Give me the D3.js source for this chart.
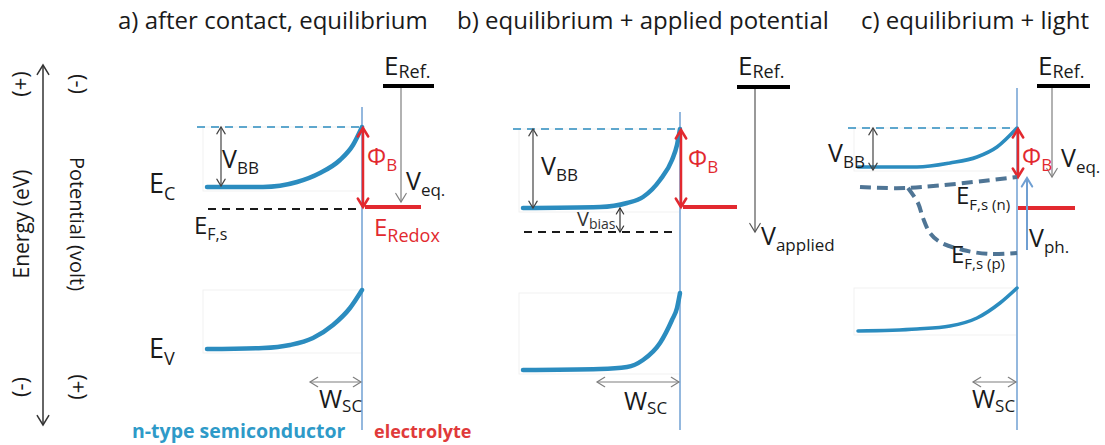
<!DOCTYPE html>
<html>
<head>
<meta charset="utf-8">
<script src="https://cdn.jsdelivr.net/npm/d3@7/dist/d3.min.js"></script>
<style>
  html, body { margin: 0; padding: 0; background: #ffffff; }
  svg { display: block; font-family: "Open Sans", Lato, sans-serif; }
</style>
</head>
<body>
<svg id="chart" width="1105" height="445"></svg>
<script>
// ---- Diagram values (energy in arbitrary units, depth measured from the interface) ----
const panelTitles = ["a) after contact, equilibrium", "b) equilibrium + applied potential", "c) equilibrium + light"];

// conduction band edge: [depth, energy]
const condBandA = [[-155, 243], [-99, 243], [-65, 248], [-42, 257], [-22, 270], [-9, 285], [0, 303]];
const condBandB = [[-157, 222], [-80, 223], [-53, 227], [-37, 233], [-20, 250], [-8, 270], [-3, 285], [0, 301]];
const condBandC = [[-159, 263], [-100, 263], [-67, 267], [-40, 273], [-20, 283], [0, 302]];

// valence band edge: [depth, energy]
const valBandA = [[-155, 81], [-99, 82], [-72, 85], [-49, 92], [-29, 105], [-12, 122], [0, 140]];
const valBandB = [[-157, 60], [-80, 61], [-53, 63], [-37, 70], [-20, 87], [-8, 110], [-3, 122], [0, 137]];
const valBandC = [[-159, 99], [-100, 101], [-67, 104], [-40, 112], [-17, 127], [0, 142]];

// quasi-Fermi levels under illumination
const fermiN = [[-157, 243], [-110, 242], [0, 253]];
const fermiP = [[-109, 242], [-99, 227], [-94, 212], [-87, 197], [-77, 188], [-54, 180], [-27, 176], [0, 177]];

// reference levels per panel [a, b, c]
const surfaceCB = [303, 301, 302];
const fermiLevel = [221, 198, null];
const redoxLevel = [223, 223, 222];
const refLevel = [344, 343, 344];
const potentialEnd = [228, 198, 253];     // end of V_eq / V_applied arrows
const barrierEnd = [223, 223, 253];       // lower end of the Φ_B arrow
const bendingBottom = [244, 222, 260];    // lower end of the V_BB arrow
const depletionWidth = [52, 83, 44];      // W_SC
const biasSpan = [222, 198];              // V_bias arrow (panel b)
const photoVoltage = [180, 252];          // V_ph arrow (from, to)

// ---- Layout ----
const svg = d3.select("#chart");
const interfaceX = [362, 680, 1017];
const y = d3.scaleLinear().domain([0, 360]).range([430, 70]);
const xScales = interfaceX.map(ix => d3.scaleLinear().domain([-200, 100]).range([ix - 200, ix + 100]));

const BLUE = "#2b8cbf", IFACE = "#94b8de", RED = "#e2292f", GREY = "#7f7f7f", DARK = "#1a1a1a";

// open chevron arrow head at (x2,y2) pointing along (x1,y1)->(x2,y2)
function chevron(g, x1, y1, x2, y2, color, width, size) {
  const a = Math.atan2(y2 - y1, x2 - x1);
  const s = size, spread = 0.55;
  const p1 = [x2 - s * Math.cos(a - spread), y2 - s * Math.sin(a - spread)];
  const p2 = [x2 - s * Math.cos(a + spread), y2 - s * Math.sin(a + spread)];
  g.append("path")
    .attr("d", `M${p1[0]},${p1[1]}L${x2},${y2}L${p2[0]},${p2[1]}`)
    .attr("fill", "none").attr("stroke", color).attr("stroke-width", width)
    .attr("stroke-linejoin", "miter").attr("stroke-linecap", "round");
}
function arrow(g, x1, y1, x2, y2, color, width, size, both) {
  g.append("line").attr("x1", x1).attr("y1", y1).attr("x2", x2).attr("y2", y2)
    .attr("stroke", color).attr("stroke-width", width);
  chevron(g, x1, y1, x2, y2, color, width, size);
  if (both) chevron(g, x2, y2, x1, y1, color, width, size);
}
function label(g, x, yy, main, sub, size, subSize, color, subDy) {
  const t = g.append("text").attr("x", x).attr("y", yy)
    .attr("font-size", size).attr("fill", color || DARK);
  t.append("tspan").text(main);
  if (sub) t.append("tspan").attr("dy", subDy != null ? subDy : size * 0.25).attr("font-size", subSize).text(sub);
  return t;
}

const line = d3.line().curve(d3.curveMonotoneX);
const smooth = d3.line().curve(d3.curveCatmullRom.alpha(0.5));

// ---- Energy / potential axis ----
const axis = svg.append("g");
arrow(axis, 43, 245, 43, 65, "#333", 1.5, 11, false);
arrow(axis, 43, 245, 43, 425, "#333", 1.5, 11, false);
axis.append("text").attr("transform", "translate(29,224) rotate(-90)").attr("text-anchor", "middle")
  .attr("font-size", 21).attr("fill", DARK).text("Energy (eV)");
axis.append("text").attr("transform", "translate(70,224) rotate(90)").attr("text-anchor", "middle")
  .attr("font-size", 20).attr("fill", DARK).text("Potential (volt)");
[["(+)", 28, 84, -90], ["(-)", 71, 84, 90], ["(-)", 28, 387, -90], ["(+)", 71, 387, 90]].forEach(([s, tx, ty, r]) => {
  axis.append("text").attr("transform", `translate(${tx},${ty}) rotate(${r})`).attr("text-anchor", "middle")
    .attr("font-size", 22).attr("fill", DARK).text(s);
});

// ---- Titles ----
const titleX = [118, 457, 861];
panelTitles.forEach((t, i) => {
  svg.append("text").attr("x", titleX[i]).attr("y", 29).attr("font-size", 24).attr("fill", DARK).text(t);
});

const condBands = [condBandA, condBandB, condBandC];
const valBands = [valBandA, valBandB, valBandC];
const ifaceTop = [323, 318, 342];

// ---- Panels ----
interfaceX.forEach((ix, i) => {
  const x = xScales[i];
  const g = svg.append("g");
  const cb = condBands[i], vb = valBands[i];

  // faint frames around the band-bending regions
  [[cb, surfaceCB[i]], [vb, vb[vb.length - 1][1]]].forEach(([band, top]) => {
    const bottom = band[0][1];
    g.append("rect").attr("x", x(band[0][0]) - 4).attr("y", y(top))
      .attr("width", x(0) - x(band[0][0]) + 4).attr("height", y(bottom) - y(top) + 4)
      .attr("fill", "none").attr("stroke", "#f1f1f1").attr("stroke-width", 1);
  });

  // semiconductor / electrolyte interface
  g.append("line").attr("x1", x(0)).attr("x2", x(0)).attr("y1", y(ifaceTop[i])).attr("y2", y(0))
    .attr("stroke", IFACE).attr("stroke-width", 2);

  // flat-band reference (surface conduction band) dashed
  g.append("line").attr("x1", x(cb[0][0]) - 10).attr("x2", x(0)).attr("y1", y(surfaceCB[i])).attr("y2", y(surfaceCB[i]))
    .attr("stroke", BLUE).attr("stroke-width", 1.5).attr("stroke-dasharray", "8,6");

  // Fermi level of the semiconductor
  if (fermiLevel[i] != null) {
    g.append("line").attr("x1", x(cb[0][0]) + 1).attr("x2", x(-3)).attr("y1", y(fermiLevel[i])).attr("y2", y(fermiLevel[i]))
      .attr("stroke", DARK).attr("stroke-width", 2).attr("stroke-dasharray", "8,6");
  }

  // band edges
  [cb, vb].forEach(band => {
    g.append("path").attr("d", line(band.map(d => [x(d[0]), y(d[1])])))
      .attr("fill", "none").attr("stroke", BLUE).attr("stroke-width", i === 2 ? 3.5 : 4.5)
      .attr("stroke-linecap", "round");
  });

  // band bending V_BB
  const vbbX = [-141, -147, -144][i];
  arrow(g, x(vbbX), y(surfaceCB[i]), x(vbbX), y(bendingBottom[i]), "#444", 1.2, 8, true);

  // barrier height Φ_B
  arrow(g, x(1), y(surfaceCB[i]) + 1, x(1), y(barrierEnd[i]), RED, 2.5, 10, true);

  // redox level
  const redoxSpan = [[3, 59], [3, 57], [1, 58]][i];
  g.append("line").attr("x1", x(redoxSpan[0])).attr("x2", x(redoxSpan[1])).attr("y1", y(redoxLevel[i])).attr("y2", y(redoxLevel[i]))
    .attr("stroke", RED).attr("stroke-width", 4);

  // reference electrode level
  const refSpan = [[21, 72], [57, 110], [20, 73]][i];
  g.append("line").attr("x1", x(refSpan[0])).attr("x2", x(refSpan[1])).attr("y1", y(refLevel[i])).attr("y2", y(refLevel[i]))
    .attr("stroke", "#000").attr("stroke-width", 4);
  label(g, x(refSpan[0]) + 1, 75, "E", "Ref.", 26, 18, DARK, 3);

  // potential arrow from reference level
  const potX = [39, 75, 35][i];
  arrow(g, x(potX), y(refLevel[i]) + 2, x(potX), y(potentialEnd[i]), i === 1 ? "#555" : GREY, 1.2, 10, false);

  // depletion width W_SC
  arrow(g, x(-depletionWidth[i]), y(48), x(-1), y(48), GREY, 1.2, 9, true);
});

// ---- Panel b: applied bias ----
{
  const x = xScales[1];
  arrow(svg.append("g"), x(-60), y(biasSpan[0]), x(-60), y(biasSpan[1]), "#333", 1.2, 7, true);
}

// ---- Panel c: quasi-Fermi levels and photovoltage ----
{
  const x = xScales[2];
  const g = svg.append("g");
  [fermiN, fermiP].forEach(pts => {
    g.append("path").attr("d", smooth(pts.map(d => [x(d[0]), y(d[1])])))
      .attr("fill", "none").attr("stroke", "#4f7595").attr("stroke-width", 4)
      .attr("stroke-dasharray", "11,6");
  });
  arrow(g, x(10), y(photoVoltage[0]), x(10), y(photoVoltage[1]), "#6f9fd2", 2, 10, false);
}

// ---- Labels ----
const L = svg.append("g");
// panel a
label(L, 149, 193, "E", "C", 27, 18);
label(L, 194, 234, "E", "F,s", 24, 16);
label(L, 149, 358, "E", "V", 27, 18);
label(L, 222, 168, "V", "BB", 25, 17);
label(L, 367, 165, "Φ", "B", 24, 17, RED);
label(L, 406, 190, "V", "eq.", 25, 17);
label(L, 374, 236, "E", "Redox", 24, 18, RED);
label(L, 319, 408, "W", "SC", 25, 17, DARK, 4);
// panel b
label(L, 541, 175, "V", "BB", 25, 17);
label(L, 688, 167, "Φ", "B", 24, 17, RED);
label(L, 577, 226, "V", "bias", 20, 14, "#333", 3);
label(L, 761, 245, "V", "applied", 25, 17);
label(L, 624, 410, "W", "SC", 25, 17, DARK, 4);
// panel c
label(L, 828, 162, "V", "BB", 25, 17);
label(L, 1022, 165, "Φ", "B", 24, 17, RED);
label(L, 1061, 167, "V", "eq.", 25, 17);
label(L, 956, 204, "E", "F,s (n)", 24, 15);
label(L, 951, 263, "E", "F,s (p)", 24, 15);
label(L, 1029, 247, "V", "ph.", 25, 17);
label(L, 972, 408, "W", "SC", 25, 17, DARK, 4);

// material labels
L.append("text").attr("x", 132).attr("y", 438).attr("font-size", 19.5).attr("font-weight", "bold")
  .attr("fill", "#2e9ac8").text("n-type semiconductor");
L.append("text").attr("x", 374).attr("y", 438).attr("font-size", 18).attr("font-weight", "bold")
  .attr("fill", "#e03a3a").text("electrolyte");
</script>
</body>
</html>
